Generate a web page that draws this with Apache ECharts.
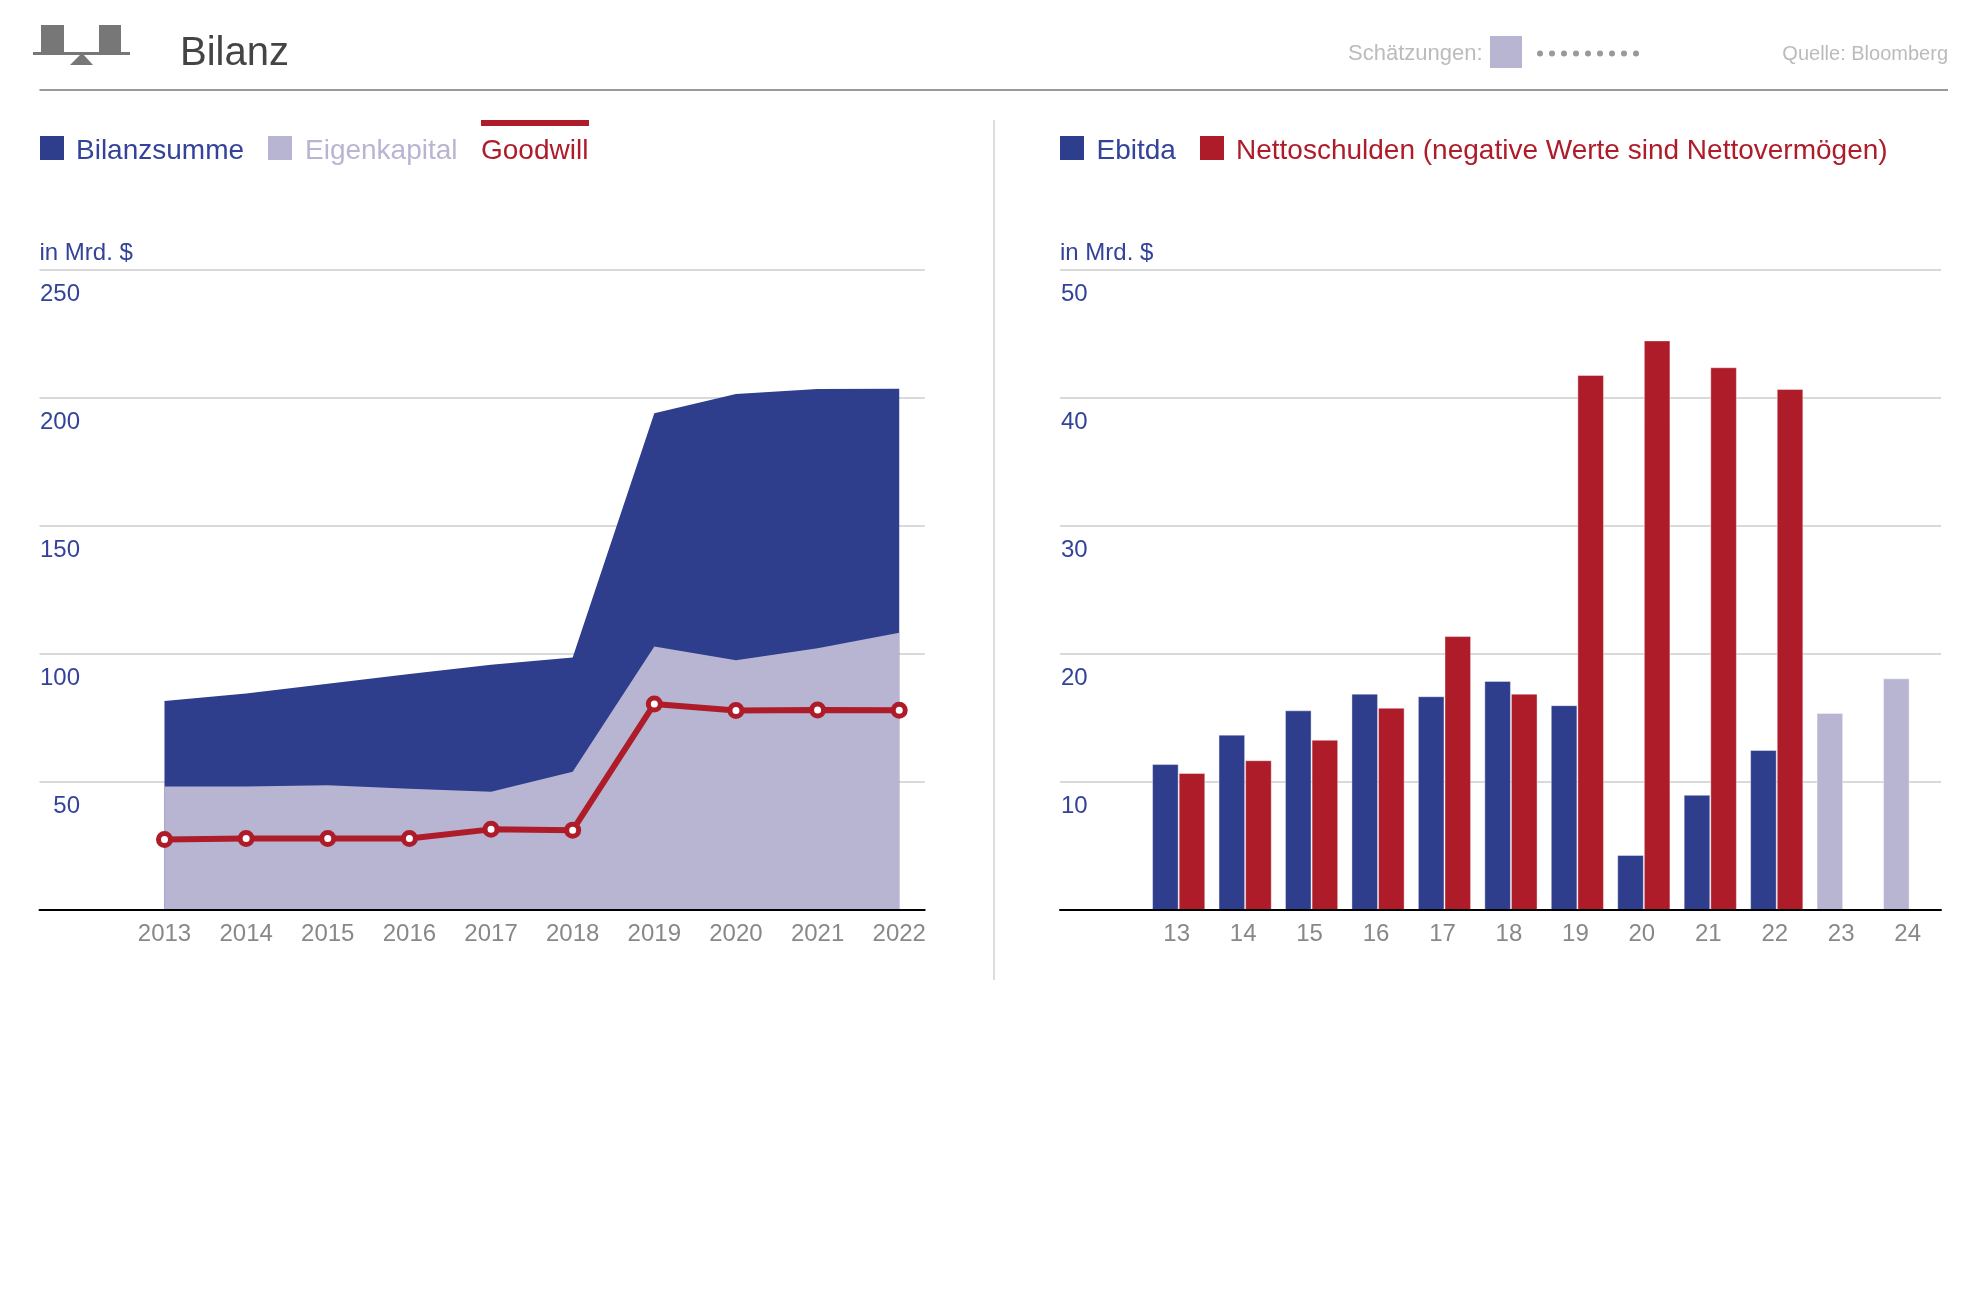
<!doctype html>
<html>
<head>
<meta charset="utf-8">
<title>Bilanz</title>
<style>
html, body { margin: 0; padding: 0; background: #fff; }
#chart { width: 1988px; height: 1312px; }
</style>
</head>
<body>
<div id="chart"></div>
<script src="https://cdn.jsdelivr.net/npm/echarts@6/dist/echarts.min.js"></script>
<script>
// Bilanz, in Mrd. $
var years = [2013, 2014, 2015, 2016, 2017, 2018, 2019, 2020, 2021, 2022];
var bilanzsumme = [81.6, 84.6, 88.4, 92.2, 95.8, 98.6, 194, 201.6, 203.5, 203.6];
var eigenkapital = [48.2, 48.2, 48.7, 47.4, 46.2, 54, 102.9, 97.6, 102.2, 108.3];
var goodwill = [27.5, 27.9, 27.9, 27.9, 31.5, 31.2, 80.5, 77.9, 78.1, 78];

// Ebitda / Nettoschulden, in Mrd. $
var barYears = [13, 14, 15, 16, 17, 18, 19, 20, 21, 22, 23, 24];
var ebitda = [11.4, 13.7, 15.6, 16.9, 16.7, 17.9, 16, 4.3, 9, 12.5, 15.4, 18.1];
var nettoschulden = [10.7, 11.7, 13.3, 15.8, 21.4, 16.9, 41.8, 44.5, 42.4, 40.7, null, null];
var estimateYears = [23, 24];

var leftTicks = [0, 50, 100, 150, 200, 250];
var rightTicks = [0, 10, 20, 30, 40, 50];

var BLUE = '#2e3d8c', BLUE_TEXT = '#34439a', RED = '#ae1c2a', LIGHT = '#b8b5d2';
var GRID = '#d9d9d9', TICK = '#888888', FONT = '"Liberation Sans", Arial, sans-serif';

var chart = echarts.init(document.getElementById('chart'), null, { renderer: 'canvas' });

function pairs(xs, ys) {
	return xs.map(function (x, i) { return [x, ys[i]]; });
}

function label(text, x, y, size, color, align) {
	return {
		type: 'text',
		silent: true,
		style: {
			text: text, x: x, y: y, fill: color,
			font: size + 'px ' + FONT,
			textAlign: align || 'left',
			textVerticalAlign: 'middle'
		}
	};
}

function box(x, y, w, h, color) {
	return { type: 'rect', silent: true, shape: { x: x, y: y, width: w, height: h }, style: { fill: color } };
}

function yAxisFor(index, ticks, labelRight) {
	return {
		type: 'value',
		gridIndex: index,
		min: ticks[0],
		max: ticks[ticks.length - 1],
		interval: ticks[1] - ticks[0],
		axisLine: { show: false },
		axisTick: { show: false },
		splitLine: { lineStyle: { color: GRID, width: 2 } },
		axisLabel: {
			inside: true,
			margin: labelRight,
			align: 'right',
			verticalAlign: 'top',
			padding: [12, 0, 0, 0],
			color: BLUE_TEXT,
			fontSize: 24,
			fontFamily: FONT,
			formatter: function (v) { return v === 0 ? '' : String(v); }
		}
	};
}

function xAxisFor(index, values, min, max, padding) {
	return {
		type: 'value',
		gridIndex: index,
		min: min,
		max: max,
		z: 5,
		splitLine: { show: false },
		axisTick: { show: false },
		axisLine: { onZero: false, lineStyle: { color: '#000', width: 2 } },
		axisLabel: {
			customValues: values,
			margin: 12,
			color: TICK,
			fontSize: 24,
			fontFamily: FONT,
			padding: padding,
			formatter: function (v) { return String(v); }
		}
	};
}

// header and legends
var graphics = [
	box(41, 25, 23, 27, '#777'),
	box(99, 25, 22, 27, '#777'),
	box(33, 52, 97, 3, '#777'),
	{ type: 'polygon', silent: true, shape: { points: [[82, 53], [93, 65], [70, 65]] }, style: { fill: '#777' } },
	label('Bilanz', 180, 54, 40, '#444'),
	label('Schätzungen:', 1348, 54, 22, '#bbb'),
	box(1490, 36, 32, 32, LIGHT),
	label('Quelle: Bloomberg', 1948, 54, 20, '#bbb', 'right'),
	box(39.5, 89, 1908.5, 2, '#999'),
	box(993, 120, 2, 860, '#ddd'),

	box(40, 136, 24, 24, BLUE),
	label('Bilanzsumme', 76, 151, 28, BLUE_TEXT),
	box(268, 136, 24, 24, LIGHT),
	label('Eigenkapital', 305, 151, 28, LIGHT),
	box(481, 120, 108, 6, RED),
	label('Goodwill', 481, 151, 28, RED),
	label('in Mrd. $', 39.5, 253, 24, BLUE_TEXT),

	box(1060, 136, 24, 24, BLUE),
	label('Ebitda', 1096.5, 151, 28, BLUE_TEXT),
	box(1200, 136, 24, 24, RED),
	label('Nettoschulden (negative Werte sind Nettovermögen)', 1236, 151, 28, RED),
	label('in Mrd. $', 1060, 253, 24, BLUE_TEXT)
];
for (var d = 0; d < 9; d++) {
	graphics.push({ type: 'circle', silent: true, shape: { cx: 1540 + d * 12, cy: 53.5, r: 3 }, style: { fill: '#999' } });
}

var barBorder = { borderColor: 'rgba(255,255,255,0.4)', borderWidth: 1 };

var option = {
	animation: false,
	backgroundColor: '#fff',
	graphic: graphics,
	grid: [
		{ left: 39.5, top: 270, width: 885.2, height: 640 },
		{ left: 1060, top: 270, width: 881, height: 640 }
	],
	xAxis: [
		xAxisFor(0, years, 2011.469, 2022.312, [0, 0, 0, 0]),
		xAxisFor(1, barYears, 11.214, 24.472, [0, 4, 0, 0])
	],
	yAxis: [
		yAxisFor(0, leftTicks, 40.5),
		yAxisFor(1, rightTicks, 27.6)
	],
	series: [
		{
			name: 'Bilanzsumme', type: 'line', xAxisIndex: 0, yAxisIndex: 0, z: 2,
			data: pairs(years, bilanzsumme),
			showSymbol: false,
			lineStyle: { width: 0 },
			areaStyle: { color: BLUE, opacity: 1 }
		},
		{
			name: 'Eigenkapital', type: 'line', xAxisIndex: 0, yAxisIndex: 0, z: 3,
			data: pairs(years, eigenkapital),
			showSymbol: false,
			lineStyle: { width: 0 },
			areaStyle: { color: LIGHT, opacity: 1 }
		},
		{
			name: 'Goodwill', type: 'line', xAxisIndex: 0, yAxisIndex: 0, z: 4,
			data: pairs(years, goodwill),
			symbol: 'circle',
			symbolSize: 12,
			showAllSymbol: true,
			lineStyle: { color: RED, width: 6 },
			itemStyle: { color: '#fff', borderColor: RED, borderWidth: 5 }
		},
		{
			name: 'Ebitda', type: 'bar', xAxisIndex: 1, yAxisIndex: 1,
			barWidth: 26.6, barGap: 0,
			data: barYears.map(function (y, i) {
				var estimate = estimateYears.indexOf(y) >= 0;
				return {
					value: [y, ebitda[i]],
					itemStyle: Object.assign({ color: estimate ? LIGHT : BLUE }, barBorder)
				};
			})
		},
		{
			name: 'Nettoschulden', type: 'bar', xAxisIndex: 1, yAxisIndex: 1,
			barWidth: 26.6, barGap: 0,
			itemStyle: Object.assign({ color: RED }, barBorder),
			data: pairs(barYears, nettoschulden)
		}
	]
};

chart.setOption(option);
</script>
</body>
</html>
